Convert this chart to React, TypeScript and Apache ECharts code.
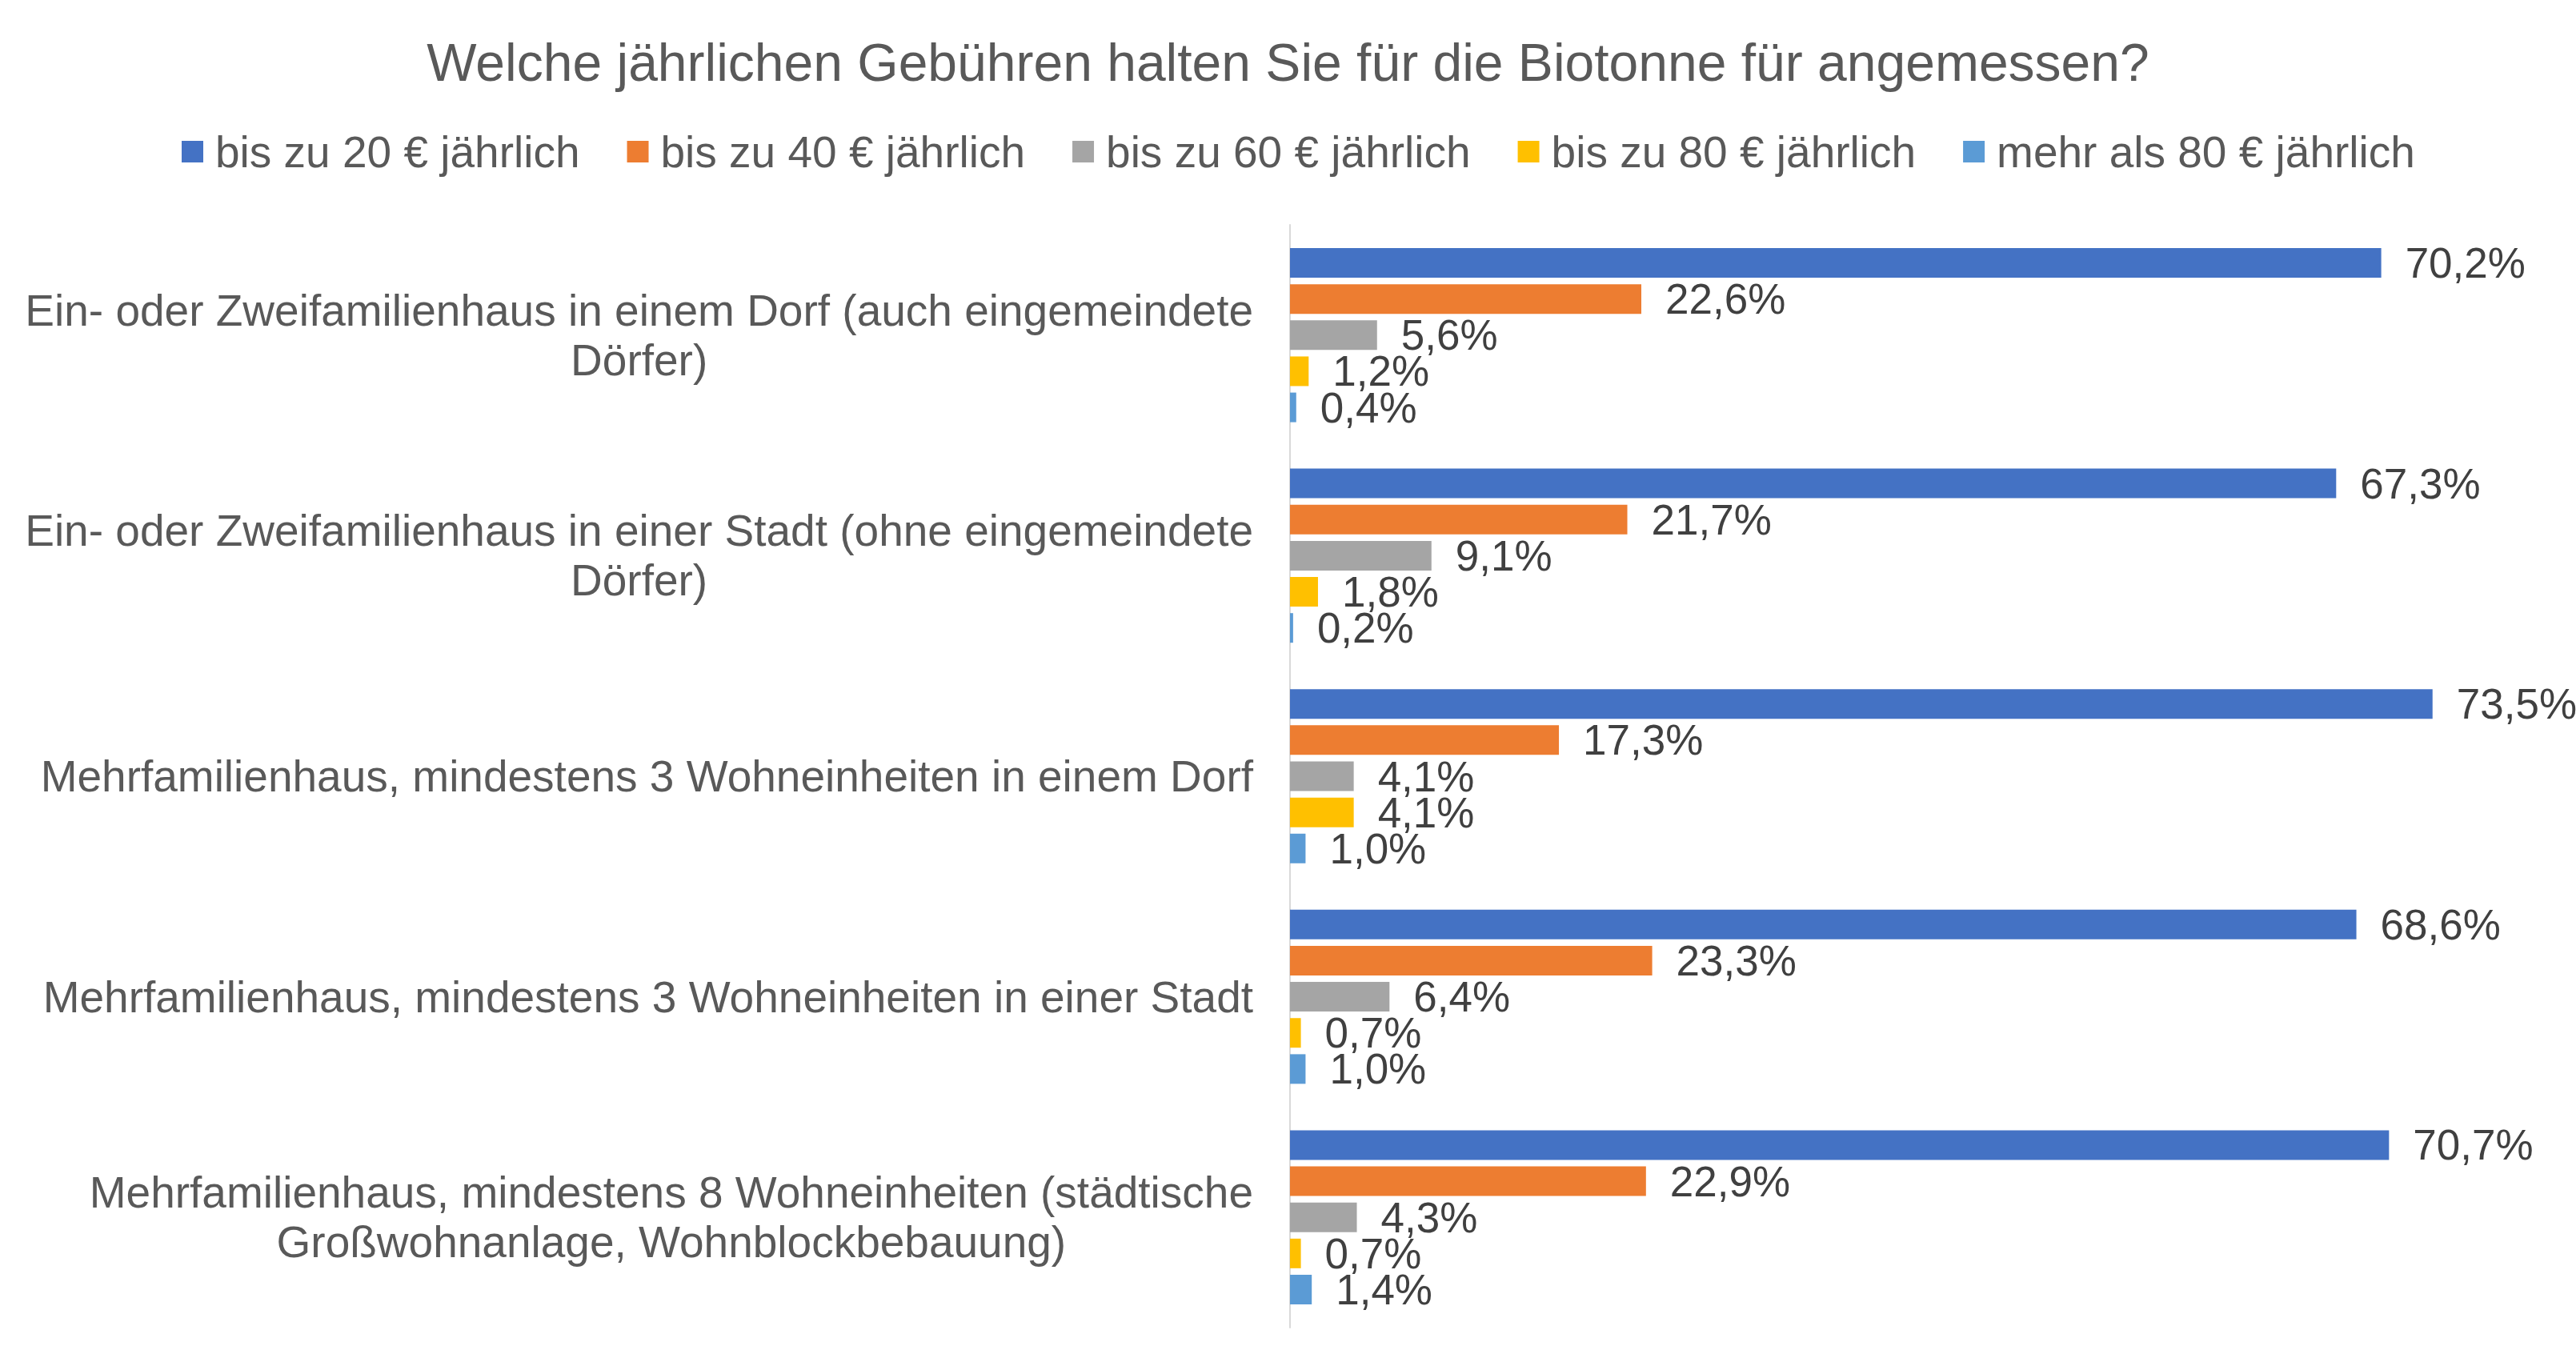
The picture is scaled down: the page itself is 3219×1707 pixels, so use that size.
import React, { useEffect, useRef } from "react";
import * as echarts from "echarts";

const titleText = "Welche jährlichen Gebühren halten Sie für die Biotonne für angemessen?";
const categories = [
  "Ein- oder Zweifamilienhaus in einem Dorf (auch eingemeindete\nDörfer)",
  "Ein- oder Zweifamilienhaus in einer Stadt (ohne eingemeindete\nDörfer)",
  "Mehrfamilienhaus, mindestens 3 Wohneinheiten in einem Dorf",
  "Mehrfamilienhaus, mindestens 3 Wohneinheiten in einer Stadt",
  "Mehrfamilienhaus, mindestens 8 Wohneinheiten (städtische\nGroßwohnanlage, Wohnblockbebauung)",
];
const seriesNames = [
  "bis zu 20 € jährlich",
  "bis zu 40 € jährlich",
  "bis zu 60 € jährlich",
  "bis zu 80 € jährlich",
  "mehr als 80 € jährlich",
];
const bis20 = [70.2, 67.3, 73.5, 68.6, 70.7];
const bis40 = [22.6, 21.7, 17.3, 23.3, 22.9];
const bis60 = [5.6, 9.1, 4.1, 6.4, 4.3];
const bis80 = [1.2, 1.8, 4.1, 0.7, 0.7];
const mehr80 = [0.4, 0.2, 1.0, 1.0, 1.4];
const seriesValues = [bis20, bis40, bis60, bis80, mehr80];
const colors = ["#4472C4", "#ED7D31", "#A5A5A5", "#FFC000", "#5B9BD5"];

const FONT = "'Liberation Sans', Arial, sans-serif";

export default function App() {
  const ref = useRef<HTMLDivElement>(null);
  useEffect(() => {
    if (!ref.current) return;
    const chart = echarts.init(ref.current, undefined, { renderer: "svg" });
    chart.setOption({
      animation: false,
      backgroundColor: "#ffffff",
      title: {
        text: titleText,
        left: "center",
        top: 40,
        textStyle: { fontFamily: FONT, fontSize: 66, fontWeight: "normal", color: "#595959", lineHeight: 66 },
      },
      legend: {
        data: seriesNames,
        left: 222,
        top: 157,
        itemWidth: 27,
        itemHeight: 27,
        itemGap: 59,
        icon: "rect",
        textStyle: { fontFamily: FONT, fontSize: 55, color: "#595959", lineHeight: 55, padding: [0, 0, 0, 10] },
      },
      grid: { left: 1612, top: 281, bottom: 48, right: 53, containLabel: false },
      xAxis: {
        type: "value",
        min: 0,
        max: 80,
        show: false,
        splitLine: { show: false },
      },
      yAxis: {
        type: "category",
        data: categories,
        inverse: true,
        axisTick: { show: false },
        axisLine: { show: true, lineStyle: { color: "#D9D9D9", width: 2 } },
        axisLabel: {
          margin: 46,
          align: "right",
          formatter: (v: string) => v.split("\n").map((l) => `{c|${l}}`).join("\n"),
          rich: {
            c: { align: "center", fontFamily: FONT, fontSize: 55, color: "#595959", lineHeight: 62 },
          },
        },
      },
      series: seriesNames.map((name, i) => ({
        name,
        type: "bar",
        data: seriesValues[i],
        barWidth: 37,
        barGap: "22%",
        itemStyle: { color: colors[i] },
        label: {
          show: true,
          position: "right",
          distance: 30,
          fontFamily: FONT,
          fontSize: 53,
          color: "#404040",
          formatter: (p: any) => p.value.toFixed(1).replace(".", ",") + "%",
        },
      })),
    });
    return () => chart.dispose();
  }, []);
  return <div ref={ref} style={{ position: "absolute", left: 0, top: 0, width: 3219, height: 1707 }} />;
}
